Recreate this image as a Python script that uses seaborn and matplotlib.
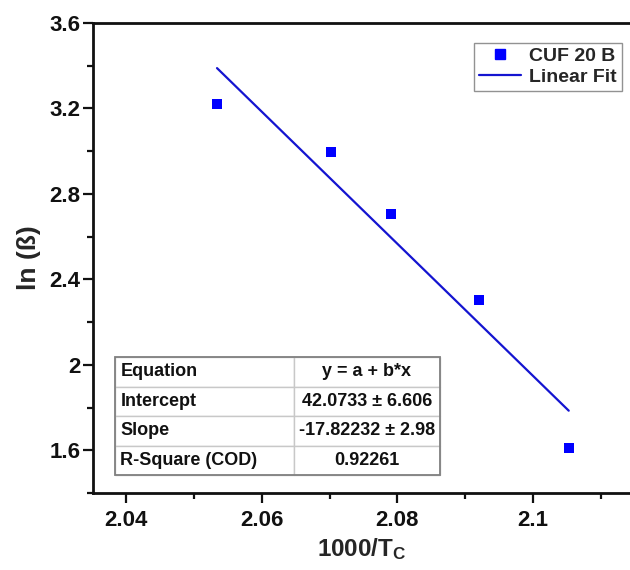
import numpy as np
import pandas as pd
import matplotlib
matplotlib.use("Agg")
import matplotlib.pyplot as plt
import seaborn as sns
from matplotlib.lines import Line2D
from matplotlib.patches import Rectangle
from matplotlib.ticker import MultipleLocator, FixedLocator

# ---- data ----
inv_tc = [2.0534, 2.0702, 2.0791, 2.0920, 2.1053]
ln_beta = [3.219, 2.996, 2.708, 2.303, 1.609]
series_name = "CUF 20 B"
fit_name = "Linear Fit"
x_ticks = [2.04, 2.06, 2.08, 2.1]
x_tick_labels = ["2.04", "2.06", "2.08", "2.1"]
y_ticks = [1.6, 2.0, 2.4, 2.8, 3.2, 3.6]
y_tick_labels = ["1.6", "2", "2.4", "2.8", "3.2", "3.6"]
table_rows = ["Equation", "Intercept", "Slope", "R-Square (COD)"]
table_vals = ["y = a + b*x", "42.0733 \u00b1 6.606", "-17.82232 \u00b1 2.98", "0.92261"]

sns.set_theme(style="ticks")
plt.rcParams['font.family'] = ['Liberation Sans', 'DejaVu Sans']
plt.rcParams['mathtext.fontset'] = 'custom'
plt.rcParams['mathtext.rm'] = 'Liberation Sans:bold'
plt.rcParams['mathtext.bf'] = 'Liberation Sans:bold'
plt.rcParams['mathtext.it'] = 'Liberation Sans:bold'

W, H = 630, 570
fig = plt.figure(figsize=(W / 100, H / 100), dpi=100)
ax = fig.add_axes([93 / W, 1 - 493 / H, (630 - 93) / W, 470 / H])

df = pd.DataFrame({"x": inv_tc, "y": ln_beta})
b, a = np.polyfit(df["x"], df["y"], 1)
fit_x = np.array([min(inv_tc), max(inv_tc)])
fit_df = pd.DataFrame({"x": fit_x, "y": a + b * fit_x})

blue = "#0000ff"
line_blue = "#1414d0"
sns.lineplot(data=fit_df, x="x", y="y", ax=ax, color=line_blue, linewidth=1.6)
sns.scatterplot(data=df, x="x", y="y", ax=ax, marker="s", s=48, color=blue,
                edgecolor=blue, linewidth=0)

ax.set_xlim(2.0351, 2.11434)
ax.set_ylim(1.4, 3.6)
ax.xaxis.set_major_locator(FixedLocator(x_ticks))
ax.set_xticklabels(x_tick_labels)
ax.xaxis.set_minor_locator(MultipleLocator(0.01))
ax.yaxis.set_major_locator(FixedLocator(y_ticks))
ax.set_yticklabels(y_tick_labels)
ax.yaxis.set_minor_locator(MultipleLocator(0.2))

for lab in ax.get_xticklabels() + ax.get_yticklabels():
    lab.set_fontweight("bold")
    lab.set_fontsize(16)
    lab.set_color("#111111")

ax.tick_params(axis="both", which="major", direction="out", length=7, width=1.6, color="#111111")
ax.tick_params(axis="both", which="minor", direction="out", length=4, width=1.6, color="#111111")
ax.tick_params(axis="x", which="major", pad=5)
ax.tick_params(axis="y", which="major", pad=2)

for s in ["left", "bottom", "top"]:
    ax.spines[s].set_linewidth(2)
    ax.spines[s].set_color("#111111")
ax.spines["right"].set_visible(False)

ax.set_xlabel(r"1000/T$_{\mathrm{C}}$", fontsize=17.5, fontweight="bold", labelpad=4)
ax.set_ylabel("ln (\u00df)", fontsize=19, fontweight="bold", labelpad=6)

handles = [Line2D([], [], marker="s", linestyle="none", color=blue, markersize=7),
           Line2D([], [], color=line_blue, linewidth=1.6)]
leg = ax.legend(handles, [series_name, fit_name], loc="upper right",
                bbox_to_anchor=(621.7 / W, 1 - 42.7 / H), bbox_transform=fig.transFigure,
                borderaxespad=0, fancybox=False, frameon=True, handlelength=2.2,
                handletextpad=0.4, borderpad=0.25, labelspacing=0.15,
                prop={"weight": "bold", "size": 14})
leg.get_frame().set_edgecolor("#777777")
leg.get_frame().set_linewidth(1.0)

# results table
x0, x1, xm = 115, 440, 294
y_top, y_bot = 357, 475
bx = (x0 - 93) / 537
bw = (x1 - x0) / 537
by = (493 - y_bot) / 470
bh = (y_bot - y_top) / 470
cells = [[r, v] for r, v in zip(table_rows, table_vals)]
tbl = ax.table(cellText=cells, bbox=[bx, by, bw, bh],
               colWidths=[(xm - x0) / (x1 - x0), (x1 - xm) / (x1 - x0)],
               cellLoc="center")
tbl.auto_set_font_size(False)
for (r, c), cell in tbl.get_celld().items():
    cell.set_edgecolor("#c8c8c8")
    cell.set_linewidth(1.0)
    cell.set_facecolor("white")
    t = cell.get_text()
    t.set_fontsize(13)
    t.set_fontweight("bold")
    t.set_color("#111111")
    if c == 0:
        t.set_horizontalalignment("left")
        cell.PAD = 0.03
        cell._loc = "left"
ax.add_patch(Rectangle((bx, by), bw, bh, transform=ax.transAxes, fill=False,
                       edgecolor="#808080", linewidth=1.3, zorder=10))

fig.savefig("out.png", dpi=100)
